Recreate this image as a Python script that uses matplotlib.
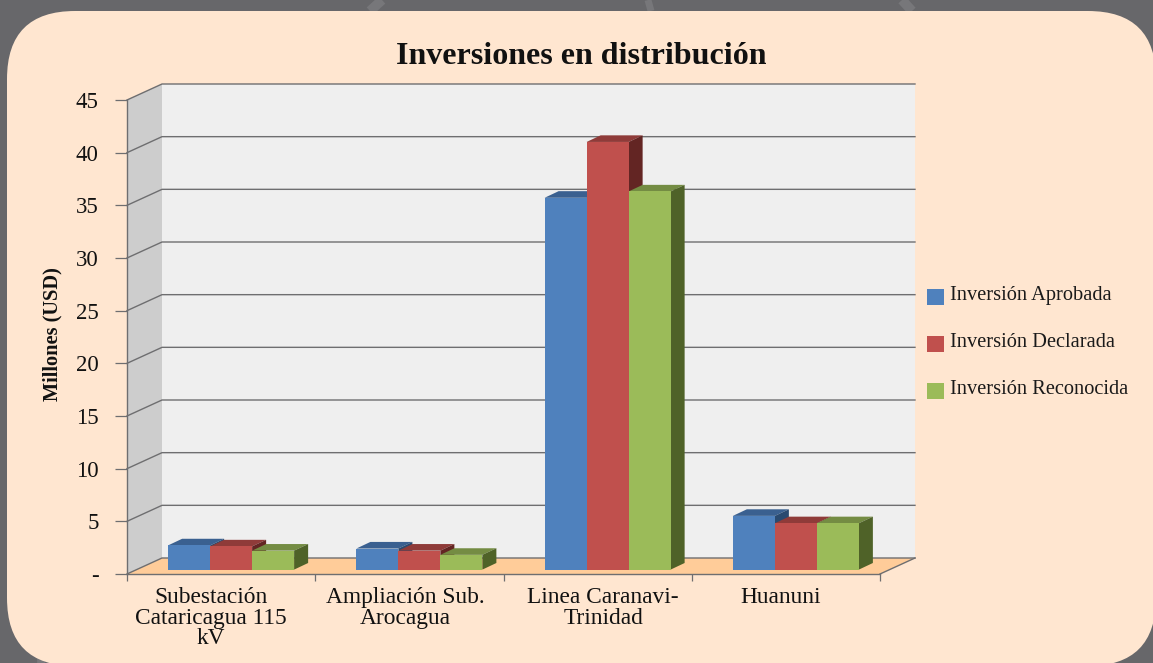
import matplotlib
matplotlib.use("Agg")
import matplotlib.pyplot as plt
from matplotlib.patches import FancyBboxPatch, Polygon, Patch

categories = ["Subestación\nCataricagua 115\nkV", "Ampliación Sub.\nArocagua", "Linea Caranavi-\nTrinidad", "Huanuni"]
series_names = ["Inversión Aprobada", "Inversión Declarada", "Inversión Reconocida"]
aprobada = [2.3, 2.0, 35.3, 5.1]
declarada = [2.2, 1.8, 40.6, 4.4]
reconocida = [1.8, 1.4, 35.9, 4.4]
y_ticks = [0, 5, 10, 15, 20, 25, 30, 35, 40, 45]
y_tick_labels = ["-", "5", "10", "15", "20", "25", "30", "35", "40", "45"]
front_colors = ["#4F81BD", "#C0504D", "#9BBB59"]
top_colors = ["#3A6090", "#8F3B39", "#748C43"]
side_colors = ["#2A4A70", "#632523", "#4F6228"]

W, H = 1153, 663
FONT = "Liberation Serif"
plt.rcParams["font.family"] = FONT
fig = plt.figure(figsize=(W / 100, H / 100), dpi=100, facecolor="#67676A")

# background panel in pixel coordinates
bg = fig.add_axes([0, 0, 1, 1])
bg.set_xlim(0, W)
bg.set_ylim(H, 0)
bg.axis("off")
for xs, ys, lw in [((382, 370), (0, 11), 7), ((648, 651), (0, 11), 5), ((902, 912), (0, 11), 7), ((41, 41), (640, 663), 5.5)]:
    bg.plot(xs, ys, color="#77777A", lw=lw, solid_capstyle="butt", zorder=1)
R = 68
bg.add_patch(FancyBboxPatch((7 + R, 11 + R), 1149 - 2 * R, 655 - 2 * R,
                            boxstyle=f"round,pad={R},rounding_size={R}",
                            fc="#FFE6D0", ec="none", zorder=5))

# chart axes: the front plane of the 3D box
L, Rt, B, T = 127, 880, 574, 100
ax = fig.add_axes([L / W, 1 - B / H, (Rt - L) / W, (B - T) / H])
ax.patch.set_visible(False)
ax.set_xlim(0, 4)
ax.set_ylim(0, 45)

px_x = 4 / (Rt - L)
px_y = 45 / (B - T)
DX, DY = 35 * px_x, 16 * px_y           # depth of the box
bdx, bdy = 14 * px_x, 6.6 * px_y        # depth of a bar
offx, offy = 10 * px_x, 4.4 * px_y      # bar front plane relative to the box front
bw = 42 * px_x

GRID = "#6E6E70"
# walls and floor
ax.add_patch(Polygon([(0, 0), (DX, DY), (DX, 45 + DY), (0, 45)], fc="#CDCDCD", ec="none", zorder=1, clip_on=False))
ax.add_patch(Polygon([(DX, DY), (4 + DX, DY), (4 + DX, 45 + DY), (DX, 45 + DY)], fc="#EFEFEF", ec="none", zorder=1, clip_on=False))
ax.add_patch(Polygon([(0, 0), (4, 0), (4 + DX, DY), (DX, DY)], fc="#FFCC99", ec="none", zorder=1, clip_on=False))
for t in y_ticks:
    ax.plot([0, DX, 4 + DX], [t, t + DY, t + DY], color=GRID, lw=1.0, zorder=2, clip_on=False, solid_joinstyle="miter")
ax.plot([4, 4 + DX], [0, DY], color=GRID, lw=1.0, zorder=2, clip_on=False)

# bars
series = [aprobada, declarada, reconocida]
z = 3
for i in range(len(categories)):
    for j, vals in enumerate(series):
        v = vals[i]
        x0 = i + 0.5 + (j - 1.5) * bw + offx
        x1 = x0 + bw
        y0 = offy
        y1 = offy + v
        ax.bar(x0, v, width=bw, bottom=y0, align="edge", color=front_colors[j], zorder=z + 2, clip_on=False)
        ax.add_patch(Polygon([(x0, y1), (x1, y1), (x1 + bdx, y1 + bdy), (x0 + bdx, y1 + bdy)],
                             fc=top_colors[j], ec="none", zorder=z, clip_on=False))
        ax.add_patch(Polygon([(x1, y0), (x1 + bdx, y0 + bdy), (x1 + bdx, y1 + bdy), (x1, y1)],
                             fc=side_colors[j], ec="none", zorder=z + 1, clip_on=False))
        z += 3
ax.set_xlim(0, 4)
ax.set_ylim(0, 45)

# axes decoration
for s in ("top", "right"):
    ax.spines[s].set_visible(False)
for s in ("left", "bottom"):
    ax.spines[s].set_color(GRID)
    ax.spines[s].set_linewidth(1.0)
    ax.spines[s].set_zorder(200)
ax.set_yticks(y_ticks, y_tick_labels)
ax.tick_params(axis="y", length=8.5, width=0.9, color=GRID, pad=12, labelsize=16.5, labelcolor="#111111")
ax.set_xticks(range(5), [""] * 5)
ax.tick_params(axis="x", which="major", length=5, width=0.9, color=GRID)
ax.set_xticks([0.446, 1.477, 2.529, 3.474], categories, minor=True)
ax.tick_params(axis="x", which="minor", length=0, pad=9.5, labelsize=16.8, labelcolor="#111111")
for lab in ax.get_xticklabels(minor=True):
    lab.set_linespacing(0.96)
    lab.set_va("top")

ax.set_ylabel("Millones (USD)", fontsize=14.7, fontweight="bold", color="#111111", va="center")
ax.yaxis.set_label_coords((52 - L) / (Rt - L), (B - 334) / (B - T))

fig.text(581 / W, 1 - 57 / H, "Inversiones en distribución", ha="center", va="center",
         fontsize=23, fontweight="bold", color="#111111")

handles = [Patch(fc=c, ec="none") for c in front_colors]
leg = fig.legend(handles, series_names, loc="upper left", bbox_to_anchor=(927 / W, 1 - 289 / H), frameon=False,
                 fontsize=14.7, handlelength=0.83, handleheight=0.83, handletextpad=0.3, labelspacing=1.32,
                 borderpad=0, borderaxespad=0, labelcolor="#1A1A1A")
for t in leg.get_texts():
    t.set_y(4)

fig.savefig("out.png", dpi=100, facecolor=fig.get_facecolor())
